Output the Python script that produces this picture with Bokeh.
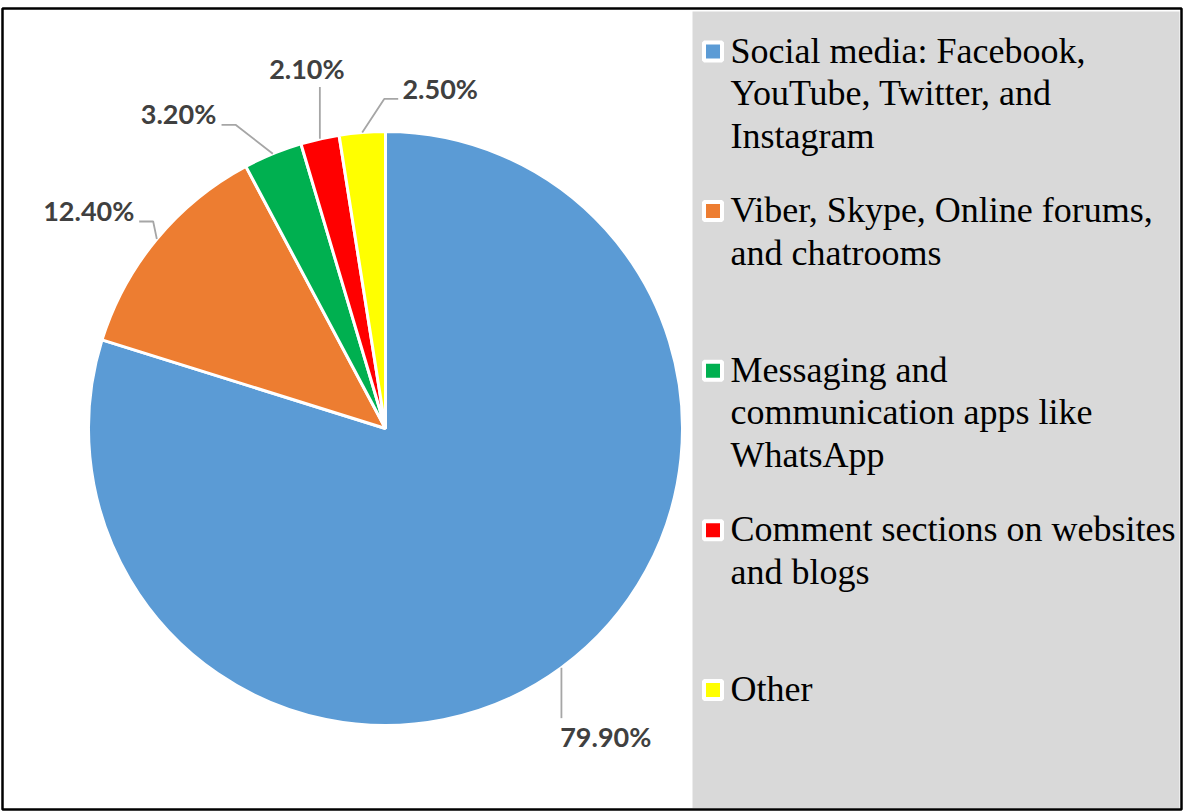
import numpy as np
from bokeh.plotting import figure
from bokeh.models import Range1d, ColumnDataSource
from bokeh.core.properties import value
from bokeh.embed import file_html
from bokeh.resources import INLINE

# ---------------- data ----------------
categories = [
    "Social media: Facebook,\nYouTube, Twitter, and\nInstagram",
    "Viber, Skype, Online forums,\nand chatrooms",
    "Messaging and\ncommunication apps like\nWhatsApp",
    "Comment sections on websites\nand blogs",
    "Other",
]
values = [79.9, 12.4, 3.2, 2.1, 2.5]
colors = ["#5B9BD5", "#ED7D31", "#00B050", "#FF0000", "#FFFF00"]

# ---------------- layout (page pixel coordinates) ----------------
W, H = 1184, 812
def Y(y):  # page row -> data y
    return H - y

CX, CY, R = 385, 428, 297
LABEL_NUDGE_DEG = [0.9, -3.6, -11.2, 0.4, 13.7]
LABEL_DIST = [380, 367, 375, 367, 342]
LEADER_SIDE = ["top", "right", "right", "bottom", "left"]
LEG_X_MARK, LEG_X_TEXT = 712.5, 730
LEG_Y0, LEG_STEP, LEG_LINE = 50, 159.6, 42.5

p = figure(width=W, height=H, x_range=Range1d(0, W), y_range=Range1d(0, H),
           output_backend="svg", toolbar_location=None,
           x_axis_type=None, y_axis_type=None, min_border=0)
p.grid.visible = False
p.background_fill_color = "white"
p.border_fill_color = "white"
p.outline_line_color = None

# outer border
p.quad(left=2, right=1181, top=Y(8), bottom=Y(809), fill_color=None,
       line_color="black", line_width=2.5)
# legend background
p.quad(left=692, right=1179, top=Y(11), bottom=Y(807.5), fill_color="#D9D9D9", line_color=None)

# pie
vals = np.array(values, dtype=float)
frac = vals / vals.sum()
cum = np.concatenate([[0.0], np.cumsum(frac)])
start = np.deg2rad(90 - cum[:-1] * 360)
end = np.deg2rad(90 - cum[1:] * 360)
src = ColumnDataSource(dict(start=start, end=end, color=colors))
p.wedge(x=CX, y=Y(CY), radius=R, start_angle="start", end_angle="end", direction="clock",
        fill_color="color", line_color="white", line_width=3, source=src)

# labels + leader lines
mid = (cum[:-1] + cum[1:]) / 2 * 360
lx, ly, ltxt, xs, ys = [], [], [], [], []
for i, v in enumerate(values):
    txt = f"{v:.2f}%"
    th = np.deg2rad(mid[i])
    ex, ey = CX + R * np.sin(th), CY - R * np.cos(th)
    tl = np.deg2rad(mid[i] + LABEL_NUDGE_DEG[i])
    cx, cy = CX + LABEL_DIST[i] * np.sin(tl), CY - LABEL_DIST[i] * np.cos(tl)
    w = 14.8 * len(txt)
    side = LEADER_SIDE[i]
    if side == "top":
        pts = [(ex, ey), (ex, cy - 20)]
    elif side == "bottom":
        pts = [(ex, ey), (ex, cy + 17)]
    elif side == "right":
        e = (cx + w / 2 + 6, cy + 9)
        pts = [(ex, ey), (e[0] + 14, e[1]), e]
    else:
        e = (cx - w / 2 - 5, cy + 8)
        pts = [(ex, ey), (e[0] - 14, e[1]), e]
    xs.append([q[0] for q in pts])
    ys.append([Y(q[1]) for q in pts])
    lx.append(cx); ly.append(Y(cy - 2)); ltxt.append(txt)

p.multi_line(xs=xs, ys=ys, line_color="#A6A6A6", line_width=1.8)
p.text(x=lx, y=ly, text=ltxt, text_align="center", text_baseline="middle",
       text_font=value("Lato"), text_font_style="bold", text_font_size="27px",
       text_color="#404040")

# legend
mx, my, tx, ty, tt = [], [], [], [], []
for i, lab in enumerate(categories):
    y0 = LEG_Y0 + i * LEG_STEP
    mx.append(LEG_X_MARK); my.append(Y(y0 + 1))
    for k, line in enumerate(lab.split("\n")):
        tx.append(LEG_X_TEXT); ty.append(Y(y0 + k * LEG_LINE)); tt.append(line)
p.scatter(x=mx, y=my, marker="square", size=18, fill_color=colors, line_color="white", line_width=4)
p.text(x=tx, y=ty, text=tt, text_align="left", text_baseline="middle",
       text_font=value("Liberation Serif"), text_font_size="36px", text_color="black")

open("out.html", "w").write(file_html(p, INLINE))
